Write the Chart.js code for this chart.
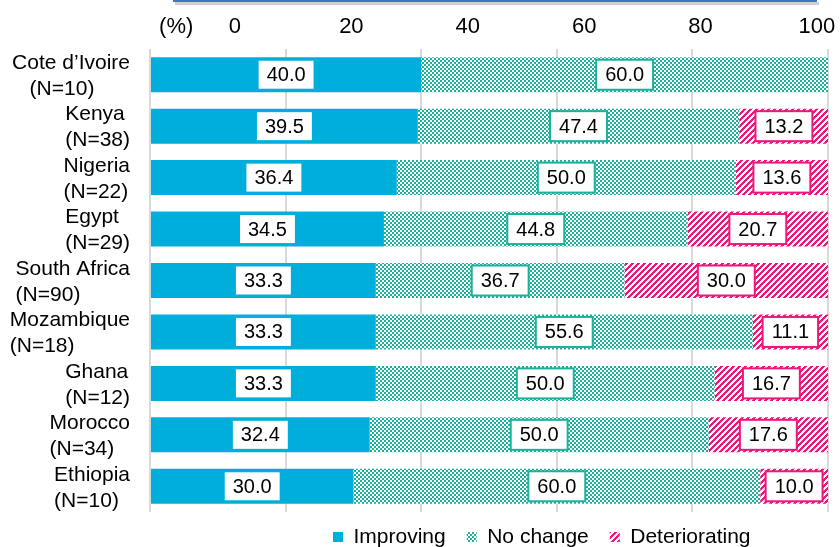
<!DOCTYPE html>
<html>
<head>
<meta charset="utf-8">
<script src="https://cdn.jsdelivr.net/npm/chart.js@4.4.1/dist/chart.umd.min.js"></script>
<style>
  body { margin: 0; background: #fff; }
  canvas { display: block; }
</style>
</head>
<body>
<canvas id="chart" width="840" height="547"></canvas>
<script>
'use strict';

const countries = [
  ['Cote d\u2019Ivoire', '   (N=10)'],
  ['Kenya', '(N=38)'],
  ['Nigeria', '(N=22)'],
  ['Egypt', '(N=29)'],
  ['South Africa', '(N=90)'],
  ['Mozambique', '(N=18)'],
  ['Ghana', '(N=12)'],
  ['Morocco', '(N=34)'],
  ['Ethiopia', '(N=10)']
];
const improving     = [40.0, 39.5, 36.4, 34.5, 33.3, 33.3, 33.3, 32.4, 30.0];
const noChange      = [60.0, 47.4, 50.0, 44.8, 36.7, 55.6, 50.0, 50.0, 60.0];
const deteriorating = [null, 13.2, 13.6, 20.7, 30.0, 11.1, 16.7, 17.6, 10.0];
const tickValues    = [0, 20, 40, 60, 80, 100];
const unitLabel     = '(%)';

const FONT = 'Arial, "Liberation Sans", sans-serif';
const BLUE = '#00AEDB';
const TEAL = '#1BB19B';
const PINK = '#E8197D';

function checker(color) {
  const c = document.createElement('canvas');
  c.width = 4; c.height = 4;
  const g = c.getContext('2d');
  g.fillStyle = '#fff';
  g.fillRect(0, 0, 4, 4);
  g.fillStyle = color;
  g.fillRect(0, 0, 2, 2);
  g.fillRect(2, 2, 2, 2);
  return g.createPattern(c, 'repeat');
}

function stripes(color) {
  const n = 6;
  const c = document.createElement('canvas');
  c.width = n; c.height = n;
  const g = c.getContext('2d');
  g.fillStyle = '#fff';
  g.fillRect(0, 0, n, n);
  g.fillStyle = color;
  for (let x = 0; x < n; x++) {
    for (let y = 0; y < n; y++) {
      if ((x + y) % n < 3) g.fillRect(x, y, 1, 1);
    }
  }
  return g.createPattern(c, 'repeat');
}

// value boxes in the middle of each segment
const valueBoxes = {
  id: 'valueBoxes',
  afterDatasetsDraw(chart) {
    const ctx = chart.ctx;
    ctx.save();
    ctx.font = '20px ' + FONT;
    ctx.textAlign = 'center';
    ctx.textBaseline = 'middle';
    chart.data.datasets.forEach((ds, i) => {
      const meta = chart.getDatasetMeta(i);
      meta.data.forEach((bar, j) => {
        const v = ds.data[j];
        if (!v) return;
        const txt = v.toFixed(1);
        const w = ctx.measureText(txt).width + 18;
        const h = 30;
        const cx = (bar.x + bar.base) / 2;
        const cy = bar.y;
        ctx.fillStyle = '#fff';
        ctx.fillRect(cx - w / 2, cy - h / 2, w, h);
        ctx.lineWidth = 2;
        ctx.strokeStyle = ds.boxColor;
        ctx.strokeRect(cx - w / 2, cy - h / 2, w, h);
        ctx.fillStyle = '#000';
        ctx.fillText(txt, cx, cy + 1);
      });
    });
    ctx.restore();
  }
};

// two line country labels, lines left aligned inside a right aligned block
const countryLabels = {
  id: 'countryLabels',
  afterDraw(chart) {
    const ctx = chart.ctx;
    const y = chart.scales.y;
    ctx.save();
    ctx.font = '21px ' + FONT;
    ctx.fillStyle = '#000';
    ctx.textAlign = 'left';
    ctx.textBaseline = 'middle';
    chart.data.labels.forEach((lines, i) => {
      const w = Math.max(...lines.map(l => ctx.measureText(l).width));
      const x = 130 - w;
      const yc = y.getPixelForTick(i) + 1.5;
      lines.forEach((l, k) => {
        ctx.fillText(l, x, yc + (k - (lines.length - 1) / 2) * 26);
      });
    });
    ctx.restore();
  }
};

// legend placement and the cut off frame at the top
const decor = {
  id: 'decor',
  afterLayout(chart) {
    const lg = chart.legend;
    const pad = lg.options.labels.padding;
    lg.left = 333 - pad;
    lg.right = lg.left + 800;
    lg.top = 537 - 10.5 - pad;
    lg.bottom = 600;
    lg.width = lg.right - lg.left;
    lg.height = lg.bottom - lg.top;
  },
  afterDraw(chart) {
    const ctx = chart.ctx;
    ctx.save();
    ctx.fillStyle = '#cfcfcf';
    ctx.fillRect(175, 2, 644, 3);
    ctx.fillStyle = '#4472C4';
    ctx.fillRect(173, 0, 644, 2);
    ctx.restore();
  }
};

const ctx = document.getElementById('chart').getContext('2d');
const myChart = new Chart(ctx, {
  type: 'bar',
  data: {
    labels: countries,
    datasets: [
      {
        label: 'Improving',
        data: improving,
        backgroundColor: BLUE,
        boxColor: BLUE,
        borderWidth: 0
      },
      {
        label: 'No change',
        data: noChange,
        backgroundColor: checker(TEAL),
        boxColor: TEAL,
        borderWidth: 0
      },
      {
        label: 'Deteriorating',
        data: deteriorating,
        backgroundColor: stripes(PINK),
        boxColor: PINK,
        borderWidth: 0
      }
    ]
  },
  options: {
    indexAxis: 'y',
    responsive: false,
    animation: false,
    layout: { padding: { left: 0, right: 12, top: 0, bottom: 0 } },
    datasets: {
      bar: { barPercentage: 1, categoryPercentage: 0.68 }
    },
    scales: {
      x: {
        type: 'linear',
        position: 'bottom',
        stacked: true,
        min: 0,
        max: 100,
        ticks: { display: false, stepSize: 20 },
        grid: { color: '#D9D9D9', lineWidth: 2, drawTicks: false },
        border: { display: false },
        afterFit: s => { s.height = 0; s.paddingLeft = 0; s.paddingRight = 0; }
      },
      x2: {
        type: 'linear',
        position: 'top',
        min: -14.6,
        max: 101.9,
        grid: { display: false, drawTicks: false },
        border: { display: false },
        afterBuildTicks: s => {
          s.ticks = [{ value: -10.1 }].concat(tickValues.map(v => ({ value: v })));
        },
        ticks: {
          autoSkip: false,
          maxRotation: 0,
          padding: 9,
          color: '#000',
          font: { family: FONT, size: 22 },
          callback: (v, i) => i === 0 ? unitLabel : String(v)
        },
        afterFit: s => { s.height = 49; s.paddingLeft = 0; s.paddingRight = 0; }
      },
      y: {
        stacked: true,
        ticks: { display: false },
        grid: { display: false },
        border: { display: false },
        afterFit: s => { s.width = 150; }
      }
    },
    plugins: {
      tooltip: { enabled: false },
      legend: {
        position: 'bottom',
        align: 'start',
        maxHeight: 35,
        labels: {
          boxWidth: 10,
          boxHeight: 10,
          padding: 21,
          color: '#000',
          font: { family: FONT, size: 21 }
        }
      }
    }
  },
  plugins: [valueBoxes, countryLabels, decor]
});
</script>
</body>
</html>
